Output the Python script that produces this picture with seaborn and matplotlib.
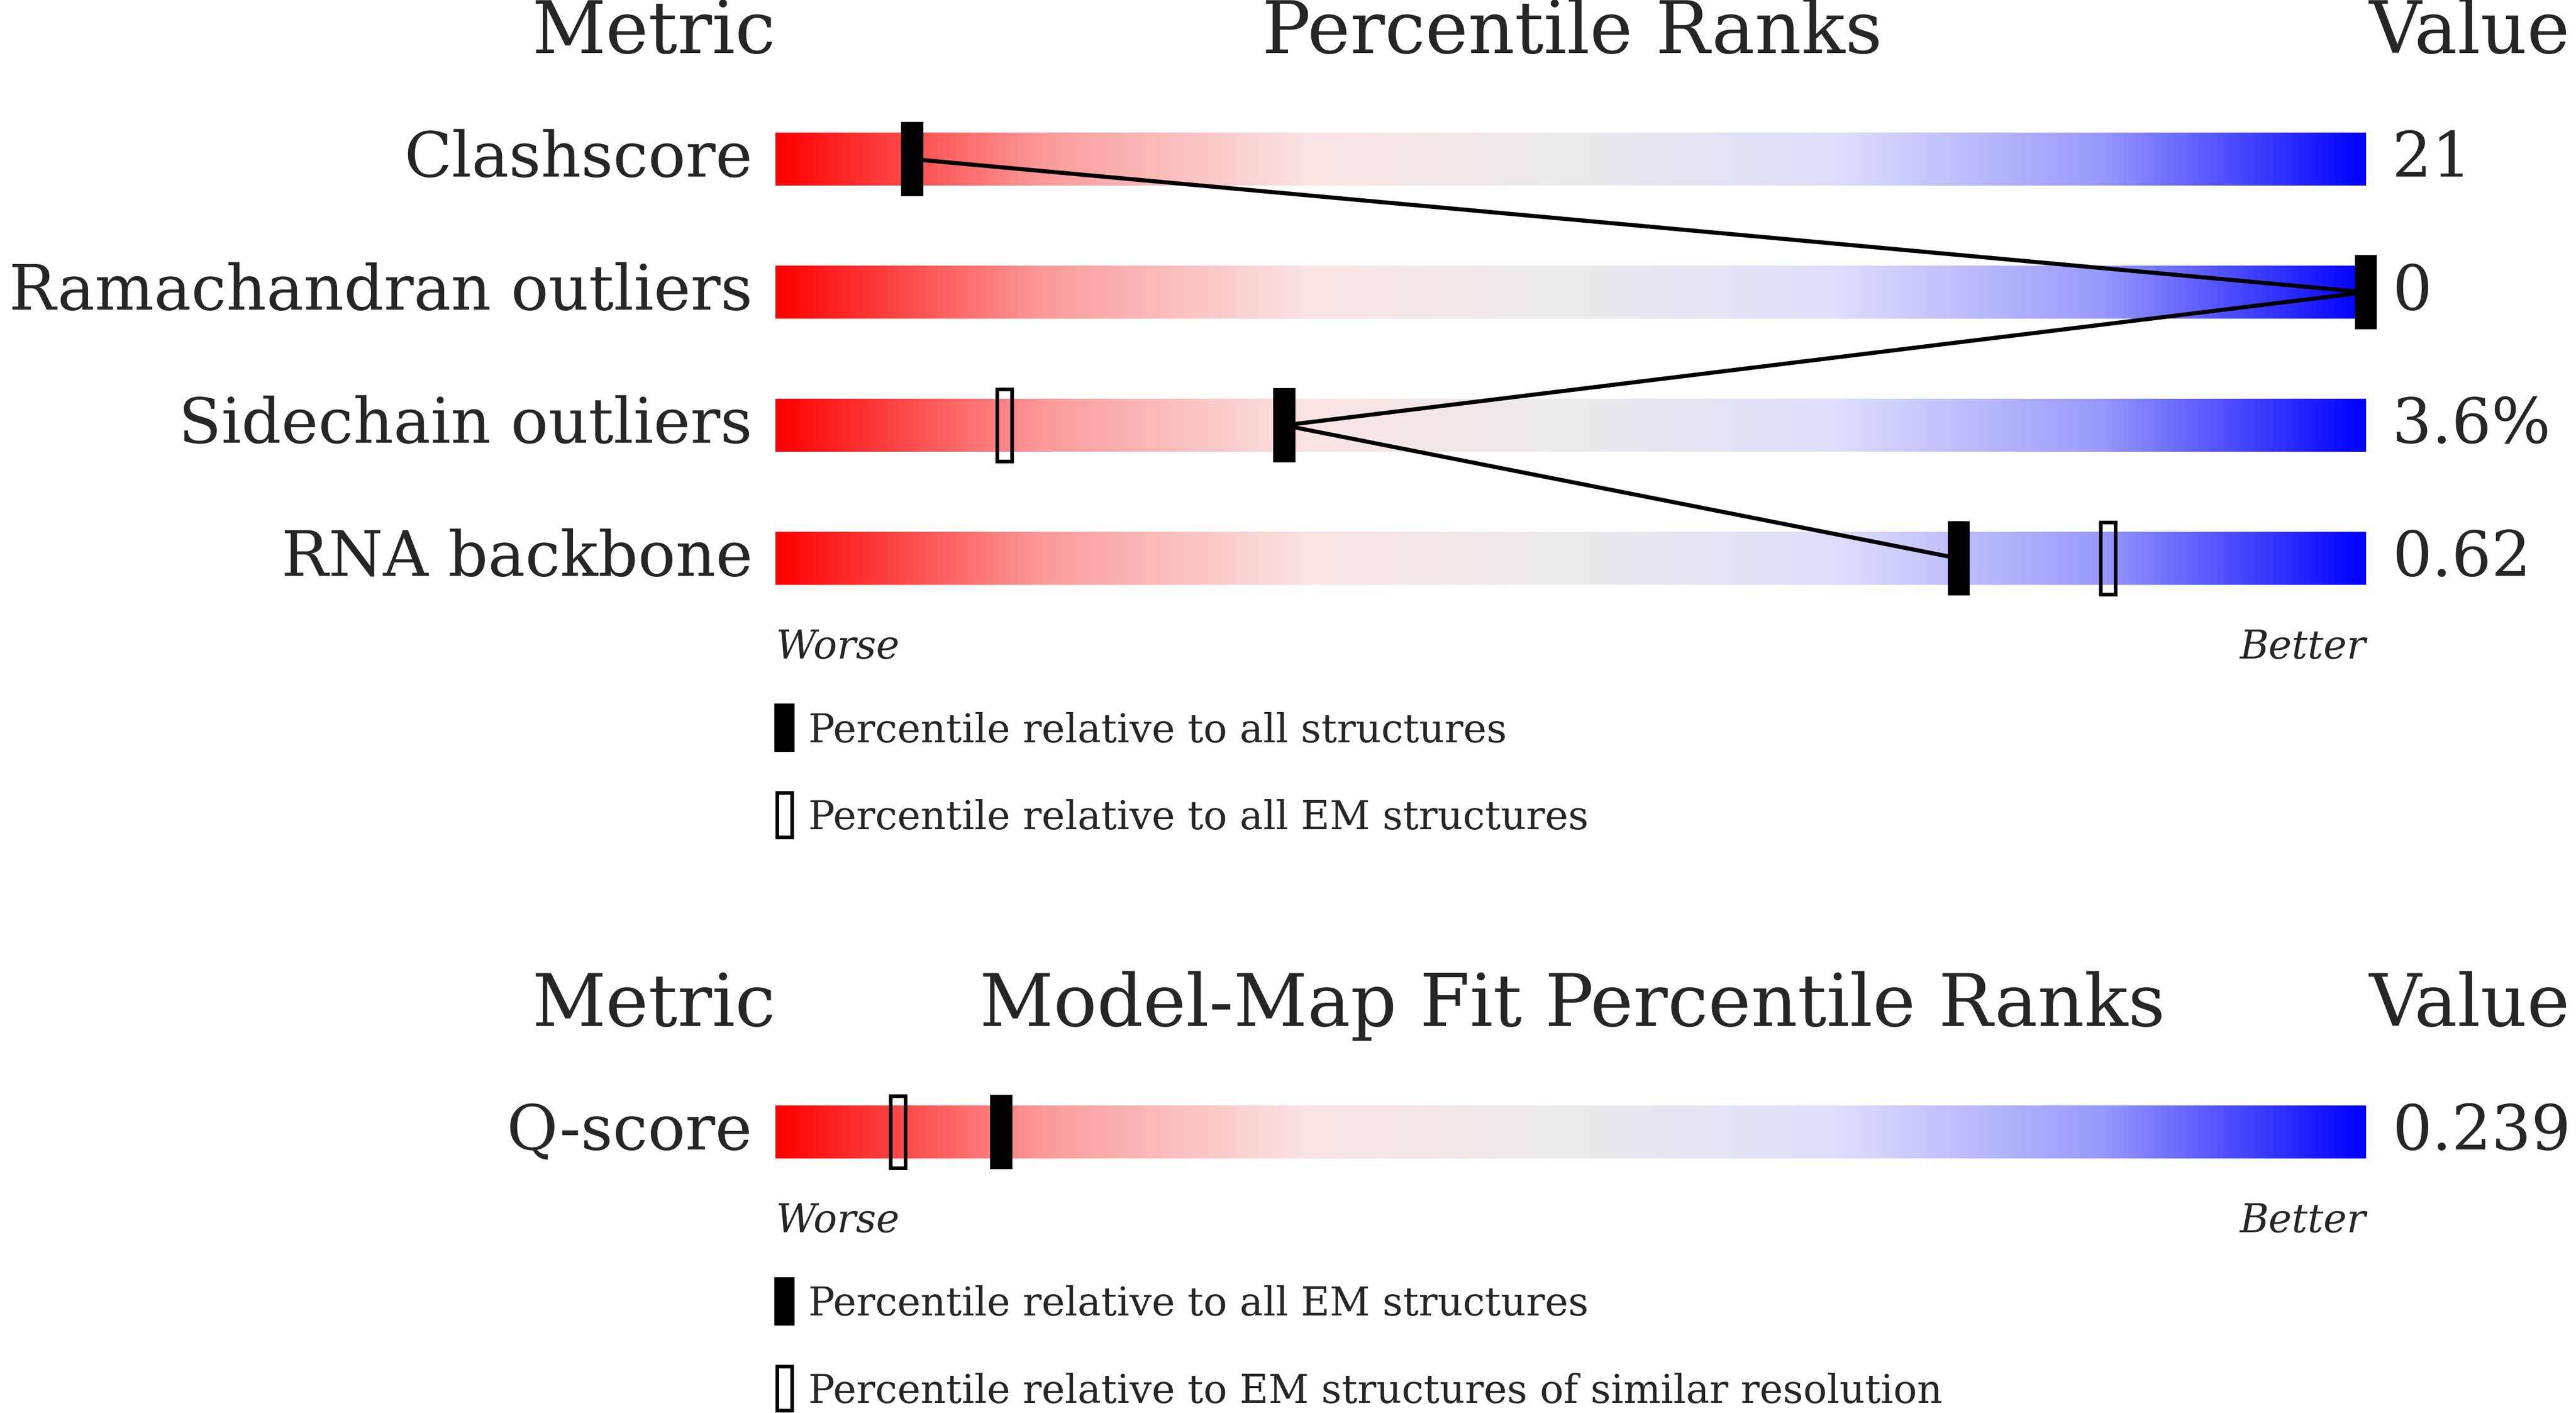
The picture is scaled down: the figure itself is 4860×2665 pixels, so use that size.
import numpy as np
import seaborn as sns
import matplotlib.pyplot as plt
from matplotlib.colors import LinearSegmentedColormap
from matplotlib.patches import Rectangle

sns.set_style("white")
plt.rcParams['font.family'] = ['DejaVu Serif']

# data
metrics = ["Clashscore", "Ramachandran outliers", "Sidechain outliers", "RNA backbone"]
values = ["21", "0", "3.6%", "0.62"]
pct_all = [8.6, 100.0, 32.0, 74.4]
pct_em = [None, None, 14.4, 83.8]

fit_metrics = ["Q-score"]
fit_values = ["0.239"]
fit_pct_all = [14.2]
fit_pct_sim = [7.7]

cmap = LinearSegmentedColormap.from_list(
    "rank", ["#ff0000", "#fa9a9a", "#fbe3e3", "#ebebeb", "#dedefc", "#9a9afc", "#0000ff"])

W, H = 1568, 860
X0, X1 = 472, 1440
fig = plt.figure(figsize=(16.2, 16.2 * H / W), dpi=300)
ax = fig.add_axes([0, 0, 1, 1])
ax.set_xlim(0, W)
ax.set_ylim(H, 0)
ax.axis("off")

S = 3.1 * 72 / 300  # display px -> pt
grad = np.linspace(0, 1, 512).reshape(1, -1)


def px(p):
    return X0 + p / 100 * (X1 - X0)


def bar(y):
    ax.imshow(grad, cmap=cmap, aspect="auto", extent=(X0, X1, y + 16, y - 16), zorder=1)


def filled(x, y, h=44, w=12):
    ax.add_patch(Rectangle((x - w / 2, y - h / 2), w, h, fc="black", ec="black", zorder=4))


def hollow(x, y, h=44, w=9):
    ax.add_patch(Rectangle((x - w / 2, y - h / 2), w, h, fc="none", ec="black", lw=2.2 * S, zorder=4))


def panel(ytop, title, names, vals, pa, pb, leg_a, leg_b):
    ax.text(398, ytop, "Metric", ha="center", va="center", fontsize=44 * S)
    ax.text(957, ytop, title, ha="center", va="center", fontsize=44 * S)
    ax.text(1503, ytop, "Value", ha="center", va="center", fontsize=44 * S)
    ys = [ytop + 77 + 81 * i for i in range(len(names))]
    pts = []
    for y, n, v, a, b in zip(ys, names, vals, pa, pb):
        bar(y)
        ax.text(458, y, n, ha="right", va="center", fontsize=38 * S)
        ax.text(1456, y, v, ha="left", va="center", fontsize=38 * S)
        xa = min(px(a), X1 + 1)
        filled(xa, y)
        pts.append((xa, y))
        if b is not None:
            hollow(px(b), y)
    if len(pts) > 1:
        ax.plot([p[0] for p in pts], [p[1] for p in pts], color="black", lw=2.5 * S, zorder=3)
    yl = ys[-1] + 54
    ax.text(X0, yl, "Worse", style="italic", ha="left", va="center", fontsize=24 * S)
    ax.text(X1, yl, "Better", style="italic", ha="right", va="center", fontsize=24 * S)
    filled(477.5, yl + 49, h=28, w=11)
    ax.text(492, yl + 51, leg_a, ha="left", va="center", fontsize=24 * S)
    hollow(477.5, yl + 102, h=27, w=9)
    ax.text(492, yl + 104, leg_b, ha="left", va="center", fontsize=24 * S)


panel(20, "Percentile Ranks", metrics, values, pct_all, pct_em,
      "Percentile relative to all structures", "Percentile relative to all EM structures")
panel(612, "Model-Map Fit Percentile Ranks", fit_metrics, fit_values, fit_pct_all, fit_pct_sim,
      "Percentile relative to all EM structures",
      "Percentile relative to EM structures of similar resolution")

fig.savefig("out.png", dpi=300)
